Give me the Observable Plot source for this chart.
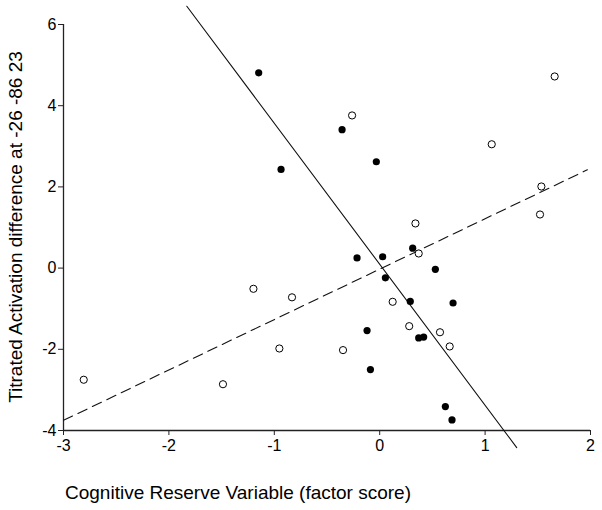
<!DOCTYPE html>
<html>
<head>
<meta charset="utf-8">
<script src="https://cdn.jsdelivr.net/npm/d3@7"></script>
<script src="https://cdn.jsdelivr.net/npm/@observablehq/plot@0.6"></script>
<style>
  html, body { margin: 0; padding: 0; background: #fff; }
  #chart svg { display: block; }
</style>
</head>
<body>
<div id="chart"></div>
<script>
// Filled circles
const filledX = [-1.148, -0.357, -0.936, -0.032, 0.313, -0.215, 0.028, 0.528, 0.054, 0.29, 0.696, -0.12, 0.37, 0.417, -0.088, 0.623, 0.686];
const filledY = [4.81, 3.41, 2.43, 2.62, 0.49, 0.25, 0.28, -0.03, -0.24, -0.82, -0.86, -1.54, -1.72, -1.70, -2.50, -3.41, -3.74];
// Open circles
const openX = [-0.262, 1.66, 1.063, 1.534, 1.521, 0.339, 0.37, 0.123, 0.28, 0.572, 0.664, -0.348, -1.198, -0.832, -0.952, -1.487, -2.808];
const openY = [3.76, 4.72, 3.05, 2.01, 1.32, 1.10, 0.36, -0.83, -1.43, -1.58, -1.93, -2.02, -0.51, -0.72, -1.98, -2.86, -2.75];
// Regression lines (endpoints)
const solidLineX = [-1.83, 1.30];
const solidLineY = [6.45, -4.42];
const dashedLineX = [-3, 1.97];
const dashedLineY = [-3.75, 2.42];
// Ticks
const xTicks = [-3, -2, -1, 0, 1, 2];
const yTicks = [-4, -2, 0, 2, 4, 6];
const xLabel = "Cognitive Reserve Variable (factor score)";
const yLabel = "Titrated Activation difference at -26 -86 23";

const filled = filledX.map((x, i) => ({x, y: filledY[i]}));
const open = openX.map((x, i) => ({x, y: openY[i]}));
const solid = solidLineX.map((x, i) => ({x, y: solidLineY[i]}));
const dashed = dashedLineX.map((x, i) => ({x, y: dashedLineY[i]}));

const W = 602, H = 510;
const mL = 63, mR = 12, mT = 24, mB = 80;
const fmt = d => String(d);

const plot = Plot.plot({
  width: W,
  height: H,
  marginLeft: mL,
  marginRight: mR,
  marginTop: mT,
  marginBottom: mB,
  style: {fontFamily: "'Liberation Sans', Arial, sans-serif", fontSize: "16px", color: "#000", background: "#fff"},
  x: {domain: [-3, 2], ticks: xTicks, label: null},
  y: {domain: [-4, 6], ticks: yTicks, label: null},
  marks: [
    Plot.axisX({ticks: xTicks, tickFormat: fmt, tickSize: 5, tickPadding: 4, fontSize: 16, label: null, stroke: "#222"}),
    Plot.axisY({ticks: yTicks, tickFormat: fmt, tickSize: 5, tickPadding: 2, fontSize: 16, label: null, stroke: "#222"}),
    Plot.ruleX([-3], {stroke: "#222", strokeWidth: 1.3}),
    Plot.ruleY([-4], {stroke: "#222", strokeWidth: 1.3}),
    Plot.line(solid, {x: "x", y: "y", stroke: "#111", strokeWidth: 1.1}),
    Plot.line(dashed, {x: "x", y: "y", stroke: "#111", strokeWidth: 1.1, strokeDasharray: "10,6"}),
    Plot.dot(open, {x: "x", y: "y", r: 3.6, stroke: "#000", strokeWidth: 1, fill: "#fff"}),
    Plot.dot(filled, {x: "x", y: "y", r: 3.6, fill: "#000", stroke: "none"})
  ]
});

document.getElementById("chart").appendChild(plot);

const svg = d3.select(plot);
svg.append("text")
  .attr("x", 65)
  .attr("y", 499)
  .attr("font-size", 19)
  .attr("fill", "#000")
  .attr("text-anchor", "start")
  .attr("font-family", "'Liberation Sans', Arial, sans-serif")
  .text(xLabel);
svg.append("text")
  .attr("transform", `translate(22, ${(mT + (H - mB)) / 2}) rotate(-90)`)
  .attr("font-size", 19)
  .attr("fill", "#000")
  .attr("text-anchor", "middle")
  .attr("font-family", "'Liberation Sans', Arial, sans-serif")
  .text(yLabel);
</script>
</body>
</html>
